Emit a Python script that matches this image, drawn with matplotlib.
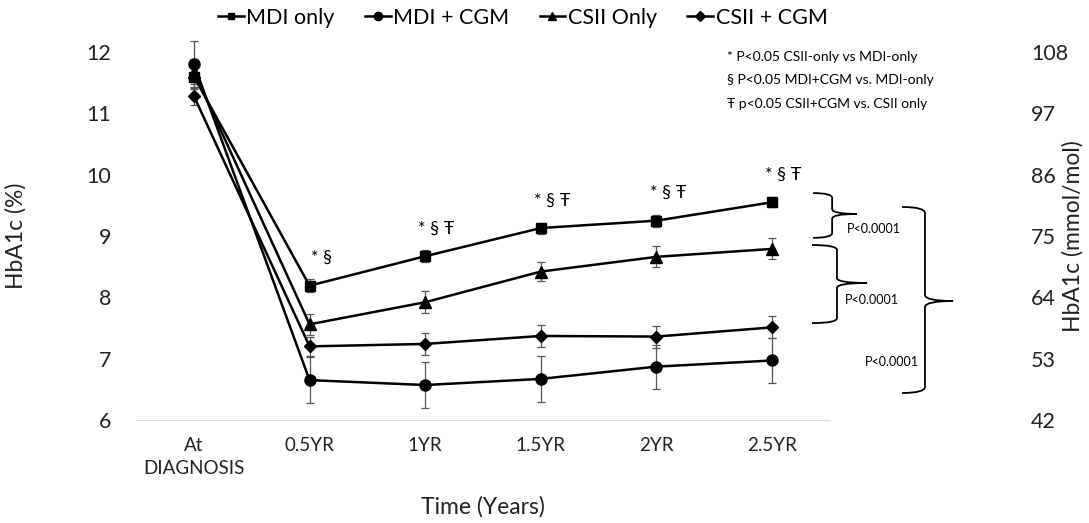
import matplotlib
matplotlib.use("Agg")
import matplotlib.pyplot as plt
from matplotlib.path import Path
from matplotlib.patches import PathPatch

plt.rcParams["font.family"] = ["Lato", "DejaVu Sans"]

# data
time_labels = ["At\nDIAGNOSIS", "0.5YR", "1YR", "1.5YR", "2YR", "2.5YR"]

mdi_only = [11.60, 8.19, 8.67, 9.13, 9.25, 9.55]
mdi_only_err = [0.20, 0.11, 0.10, 0.09, 0.10, 0.08]

mdi_cgm = [11.80, 6.65, 6.57, 6.67, 6.87, 6.97]
mdi_cgm_err = [0.38, 0.37, 0.38, 0.38, 0.36, 0.37]

csii_only = [11.68, 7.56, 7.92, 8.42, 8.66, 8.79]
csii_only_err = [0.20, 0.17, 0.18, 0.16, 0.17, 0.17]

csii_cgm = [11.28, 7.20, 7.24, 7.37, 7.36, 7.51]
csii_cgm_err = [0.15, 0.15, 0.18, 0.18, 0.18, 0.18]

sig_marks = ["", "* §", "* § Ŧ", "* § Ŧ", "* § Ŧ", "* § Ŧ"]

right_ticks = [42, 53, 64, 75, 86, 97, 108]

legend_notes = [
    "* P<0.05 CSII-only vs MDI-only",
    "§ P<0.05 MDI+CGM vs. MDI-only",
    "Ŧ p<0.05 CSII+CGM vs. CSII only",
]


def brace(ax, x0, xv, xtip, y0, y1, ym, dy=0.08):
    # right-facing curly brace in data coords
    verts = [
        (x0, y1), (xv, y1), (xv, y1 - dy),
        (xv, ym + dy),
        (xv, ym), (xtip, ym),
        (xv, ym), (xv, ym - dy),
        (xv, y0 + dy),
        (xv, y0), (x0, y0),
    ]
    codes = [
        Path.MOVETO, Path.CURVE3, Path.CURVE3,
        Path.LINETO,
        Path.CURVE3, Path.CURVE3,
        Path.CURVE3, Path.CURVE3,
        Path.LINETO,
        Path.CURVE3, Path.CURVE3,
    ]
    patch = PathPatch(Path(verts, codes), facecolor="none", edgecolor="black",
                      lw=1.3, clip_on=False)
    ax.add_patch(patch)


fig = plt.figure(figsize=(10.89, 5.23), dpi=100)
ax = fig.add_axes([0.125, 0.197, 0.637, 0.7035])
x = list(range(len(time_labels)))

series = [
    ("MDI only", mdi_only, mdi_only_err, "s", 6.5),
    ("MDI + CGM", mdi_cgm, mdi_cgm_err, "o", 8),
    ("CSII Only", csii_only, csii_only_err, "^", 8),
    ("CSII + CGM", csii_cgm, csii_cgm_err, "D", 6.5),
]

for name, vals, errs, mk, ms in series:
    ax.errorbar(x, vals, yerr=errs, fmt="none", ecolor="#555555",
                elinewidth=0.9, capsize=3, capthick=0.9, clip_on=False, zorder=2)
    ax.plot(x, vals, color="black", lw=1.8, marker=mk, markersize=ms,
            label=name, clip_on=False, zorder=3)

for i, mark in enumerate(sig_marks):
    if mark:
        ax.text(x[i] + 0.1, mdi_only[i] + 0.45, mark, ha="center", va="center",
                fontsize=13)

ax.set_xlim(-0.5, 5.5)
ax.set_ylim(6, 12)
ax.set_xticks(x)
ax.set_xticklabels(time_labels, fontsize=13.5, color="#222222", linespacing=1.45)
ax.set_yticks(range(6, 13))
ax.tick_params(axis="y", length=0, pad=18, labelsize=15.5, labelcolor="#222222")
ax.tick_params(axis="x", length=0, pad=12)
for s in ["top", "right", "left"]:
    ax.spines[s].set_visible(False)
ax.spines["bottom"].set_color("#d9d9d9")
ax.set_ylabel("HbA1c (%)", fontsize=16.5, color="#222222")
ax.yaxis.set_label_coords(-0.158, 0.5)
ax.set_xlabel("Time (Years)", fontsize=16.5, labelpad=14, color="#222222")

ax2 = ax.twinx()
ax2.set_ylim(42, 108)
ax2.set_yticks(right_ticks)
ax2.tick_params(axis="y", length=0, pad=145, labelsize=15.5, labelcolor="#222222")
for s in ["top", "right", "left", "bottom"]:
    ax2.spines[s].set_visible(False)
ax2.set_ylabel("HbA1c (mmol/mol)", fontsize=16.5, color="#222222")
ax2.yaxis.set_label_coords(1.335, 0.5)

# braces and p-values
brace(ax, 5.355, 5.52, 5.735, 8.97, 9.70, 9.36)
brace(ax, 5.346, 5.562, 5.822, 7.58, 8.853, 8.234)
brace(ax, 6.125, 6.323, 6.566, 6.44, 9.473, 7.94, dy=0.1)
ax.text(5.65, 9.11, "P<0.0001", fontsize=9, va="center", ha="left")
ax.text(5.63, 7.96, "P<0.0001", fontsize=9, va="center", ha="left")
ax.text(5.80, 6.95, "P<0.0001", fontsize=9, va="center", ha="left")

for k, note in enumerate(legend_notes):
    fig.text(0.668, 1 - (57 + 23.5 * k) / 523, note, fontsize=10,
             va="center", ha="left")

fig.legend(loc="center", bbox_to_anchor=(0.48, 0.966), ncol=4, frameon=False,
           fontsize=15.5, handlelength=1.2, handletextpad=0.12, columnspacing=1.4,
           markerscale=0.75)

fig.savefig("out.png", dpi=100)
